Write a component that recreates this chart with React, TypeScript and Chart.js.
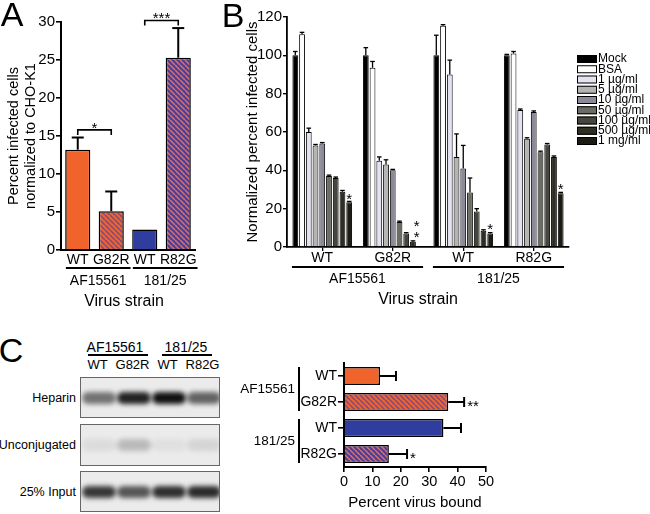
import React, { useEffect, useRef } from 'react';
import { Chart, registerables } from 'chart.js';

Chart.register(...registerables);

const FONT = '"Liberation Sans", Arial, Helvetica, sans-serif';

/* ---------------- Panel A data ---------------- */
const aCategories = ['WT', 'G82R', 'WT', 'R82G'];
const aStrains = ['AF15561', '181/25'];
const aValues = [13.2, 5.1, 2.7, 25.3];
const aErrors = [1.6, 2.6, 0, 3.9];
const aYTicks = [0, 5, 10, 15, 20, 25, 30];
const aSignificance = ['*', '***'];
const aBracketLevels = [15.8, 30.2];

/* ---------------- Panel B data ---------------- */
const bCategories = ['WT', 'G82R', 'WT', 'R82G'];
const bStrains = ['AF15561', '181/25'];
const bTreatments = ['Mock', 'BSA', '1 µg/ml', '5 µg/ml', '10 µg/ml', '50 µg/ml', '100 µg/ml', '500 µg/ml', '1 mg/ml'];
const bMock = [100, 100, 100, 100];
const bBSA = [111, 93.5, 115.5, 101];
const b1ug = [60, 45, 90, 71.5];
const b5ug = [53, 43, 47, 56.5];
const b10ug = [54, 40, 41, 70.5];
const b50ug = [37, 13, 28.5, 49.5];
const b100ug = [36, 7, 18.5, 53.5];
const b500ug = [28.8, 2.8, 8.5, 47];
const b1mg = [23.3, 0, 7, 28];
const bMockErr = [2, 4, 10.5, 0.5];
const bBSAErr = [1, 3.3, 0.5, 1];
const b1ugErr = [2, 2, 7.5, 0.5];
const b5ugErr = [0.5, 2.5, 12, 0.5];
const b10ugErr = [0.5, 0.5, 12, 0.5];
const b50ugErr = [0.5, 0.5, 7.5, 0.5];
const b100ugErr = [0.5, 0.5, 1.5, 0.5];
const b500ugErr = [0.7, 0.4, 0.5, 0.5];
const b1mgErr = [0.5, 0, 0.5, 0.5];
const bYTicks = [0, 10, 20, 30, 40, 50, 60, 70, 80, 90, 100, 110, 120];
const bStarCats = [0, 1, 1, 2, 3];
const bStarValues = [27, 12.8, 7, 11.5, 32];

/* ---------------- Panel C data ---------------- */
const cCategories = ['WT', 'G82R', 'WT', 'R82G'];
const cStrains = ['AF15561', '181/25'];
const cValues = [12.7, 36.7, 35, 15.8];
const cErrors = [5.6, 5.6, 6.2, 6.4];
const cXTicks = [0, 10, 20, 30, 40, 50];
const cSignificance = ['', '**', '', '*'];

const blotLanes = ['WT', 'G82R', 'WT', 'R82G'];
const blotRows = ['Heparin', 'Unconjugated', '25% Input'];
const heparinBand = [0.55, 0.92, 1.0, 0.62];
const unconjBand = [0.07, 0.22, 0.05, 0.1];
const inputBand = [0.82, 0.68, 0.86, 0.88];

/* ---------------- styles ---------------- */
const ORANGE = '#f0632b';
const BLUE = '#2f3e9e';
const bColors = ['#000000', '#ffffff', '#e4e2f0', '#b4b4b4', '#8c8a98', '#6c6c64', '#46463e', '#2e2e22', '#1c1c14'];

function stripes(base: string, stripe: string): CanvasPattern | string {
  const size = 5;
  const c = document.createElement('canvas');
  c.width = size;
  c.height = size;
  const g = c.getContext('2d');
  if (!g) return base;
  g.fillStyle = base;
  g.fillRect(0, 0, size, size);
  g.strokeStyle = stripe;
  g.lineWidth = 1.5;
  for (let k = -1; k <= 1; k++) {
    g.beginPath();
    g.moveTo(k * size, 0);
    g.lineTo(k * size + size, size);
    g.stroke();
  }
  return g.createPattern(c, 'repeat') || base;
}

function line(ctx: CanvasRenderingContext2D, x1: number, y1: number, x2: number, y2: number) {
  ctx.beginPath();
  ctx.moveTo(x1, y1);
  ctx.lineTo(x2, y2);
  ctx.stroke();
}
function text(ctx: CanvasRenderingContext2D, s: string, x: number, y: number, size: number, align: CanvasTextAlign = 'center') {
  ctx.font = `${size}px ${FONT}`;
  ctx.textAlign = align;
  ctx.textBaseline = 'middle';
  ctx.fillText(s, x, y);
}
function star(ctx: CanvasRenderingContext2D, s: string, x: number, yc: number, size: number, align: CanvasTextAlign = 'center') {
  ctx.font = `${size}px ${FONT}`;
  ctx.textAlign = align;
  ctx.textBaseline = 'alphabetic';
  ctx.fillText(s, x, yc + size * 0.58);
}
function vtext(ctx: CanvasRenderingContext2D, lines: string[], x: number, yc: number, size: number, lh: number) {
  ctx.save();
  ctx.translate(x, yc);
  ctx.rotate(-Math.PI / 2);
  lines.forEach((l, i) => text(ctx, l, 0, i * lh, size));
  ctx.restore();
}

function buildA(canvas: HTMLCanvasElement) {
  const patO = stripes(ORANGE, '#7b4a86');
  const patB = stripes('#4a3f98', '#e0706a');
  const plugin = {
    id: 'panelA',
    afterDatasetsDraw(chart: any) {
      const { ctx, chartArea } = chart;
      const x = chart.scales.x;
      const y = chart.scales.y;
      ctx.save();
      ctx.strokeStyle = '#000';
      ctx.fillStyle = '#000';
      ctx.lineWidth = 2;
      aValues.forEach((v, i) => {
        if (!aErrors[i]) return;
        const xc = x.getPixelForValue(i);
        const yb = y.getPixelForValue(v);
        const yt = y.getPixelForValue(v + aErrors[i]);
        line(ctx, xc, yb, xc, yt);
        line(ctx, xc - 6, yt, xc + 6, yt);
      });
      ctx.lineWidth = 1.6;
      aSignificance.forEach((s, k) => {
        const x1 = x.getPixelForValue(2 * k);
        const x2 = x.getPixelForValue(2 * k + 1);
        const yl = y.getPixelForValue(aBracketLevels[k]);
        ctx.beginPath();
        ctx.moveTo(x1, yl + 5);
        ctx.lineTo(x1, yl);
        ctx.lineTo(x2, yl);
        ctx.lineTo(x2, yl + 5);
        ctx.stroke();
        star(ctx, s, (x1 + x2) / 2, yl - 6, 15);
      });
      const b = chartArea.bottom;
      aCategories.forEach((c, i) => text(ctx, c, x.getPixelForValue(i), b + 10, 14));
      aStrains.forEach((s, k) => {
        const i0 = 2 * k;
        const i1 = 2 * k + 1;
        ctx.font = `14px ${FONT}`;
        const left = x.getPixelForValue(i0) - ctx.measureText(aCategories[i0]).width / 2 - 1;
        const right = x.getPixelForValue(i1) + ctx.measureText(aCategories[i1]).width / 2 + 1;
        ctx.lineWidth = 1.8;
        line(ctx, left, b + 18, right, b + 18);
        text(ctx, s, (left + right) / 2, b + 31, 14);
      });
      text(ctx, 'Virus strain', (chartArea.left + chartArea.right) / 2 - 4, b + 52, 16);
      vtext(ctx, ['Percent infected cells', 'normalized to CHO-K1'], 14, (chartArea.top + chartArea.bottom) / 2, 14.5, 17);
      ctx.restore();
    },
  };
  return new Chart(canvas, {
    type: 'bar',
    data: {
      labels: aCategories,
      datasets: [
        {
          data: aValues,
          backgroundColor: [ORANGE, patO, BLUE, patB] as any,
          borderColor: '#000',
          borderWidth: 1.5,
          categoryPercentage: 1,
          barPercentage: 0.75,
        },
      ],
    },
    options: {
      responsive: false,
      animation: false,
      layout: { padding: { top: 22, right: 15, left: 0, bottom: 0 } },
      plugins: { legend: { display: false }, tooltip: { enabled: false } },
      scales: {
        x: {
          grid: { display: false },
          border: { color: '#000', width: 2 },
          ticks: { display: false },
          afterFit: (s: any) => { s.height = 64; },
        },
        y: {
          min: 0,
          max: 30,
          afterBuildTicks: (s: any) => { s.ticks = aYTicks.map((v) => ({ value: v })); },
          ticks: { color: '#000', font: { family: FONT, size: 15 }, padding: 1 },
          grid: { drawOnChartArea: false, color: '#000', lineWidth: 1.6, tickLength: 5 },
          border: { color: '#000', width: 2 },
          afterFit: (s: any) => { s.width = 61; },
        },
      },
    } as any,
    plugins: [plugin],
  });
}

function buildB(canvas: HTMLCanvasElement) {
  const series = [bMock, bBSA, b1ug, b5ug, b10ug, b50ug, b100ug, b500ug, b1mg];
  const errs = [bMockErr, bBSAErr, b1ugErr, b5ugErr, b10ugErr, b50ugErr, b100ugErr, b500ugErr, b1mgErr];
  const plugin = {
    id: 'panelB',
    afterDatasetsDraw(chart: any) {
      const { ctx, chartArea } = chart;
      const x = chart.scales.x;
      const y = chart.scales.y;
      ctx.save();
      ctx.strokeStyle = '#000';
      ctx.fillStyle = '#000';
      ctx.lineWidth = 1.3;
      errs.forEach((ev, j) => {
        const meta = chart.getDatasetMeta(j);
        ev.forEach((e, i) => {
          if (!e) return;
          const el = meta.data[i];
          const yt = y.getPixelForValue(series[j][i] + e);
          line(ctx, el.x, el.y, el.x, yt);
          line(ctx, el.x - 2.3, yt, el.x + 2.3, yt);
        });
      });
      bStarCats.forEach((c, k) => {
        const el = chart.getDatasetMeta(8).data[c];
        star(ctx, '*', el.x - (c === 1 ? 3 : 0), y.getPixelForValue(bStarValues[k]), 15);
      });
      const b = chartArea.bottom;
      bCategories.forEach((c, i) => text(ctx, c, x.getPixelForValue(i), b + 11, 14));
      const w = x.getPixelForValue(1) - x.getPixelForValue(0);
      bStrains.forEach((s, k) => {
        const left = x.getPixelForValue(2 * k) - w * 0.43;
        const right = x.getPixelForValue(2 * k + 1) + w * 0.43;
        ctx.lineWidth = 1.8;
        line(ctx, left, b + 20, right, b + 20);
        text(ctx, s, (left + right) / 2, b + 32, 14);
      });
      text(ctx, 'Virus strain', (chartArea.left + chartArea.right) / 2 - 10, b + 53, 16);
      vtext(ctx, ['Normalized percent infected cells'], 53, (chartArea.top + chartArea.bottom) / 2, 15, 17);
      // legend
      const lx = chartArea.right + 8;
      ctx.lineWidth = 1;
      bTreatments.forEach((t, j) => {
        const yy = 59 + j * 10.25;
        ctx.fillStyle = bColors[j];
        ctx.fillRect(lx, yy - 4, 20, 8);
        ctx.strokeStyle = '#000';
        ctx.strokeRect(lx + 0.5, yy - 3.5, 19, 7);
        ctx.fillStyle = '#000';
        text(ctx, t, lx + 21, yy, 12, 'left');
      });
      ctx.restore();
    },
  };
  return new Chart(canvas, {
    type: 'bar',
    data: {
      labels: bCategories,
      datasets: bTreatments.map((t, j) => ({
        label: t,
        data: series[j],
        backgroundColor: bColors[j],
        borderColor: '#000',
        borderWidth: 1,
        categoryPercentage: 0.86,
        barPercentage: 0.86,
      })),
    },
    options: {
      responsive: false,
      animation: false,
      layout: { padding: { top: 17, right: 81, left: 0, bottom: 0 } },
      plugins: { legend: { display: false }, tooltip: { enabled: false } },
      scales: {
        x: {
          grid: { drawOnChartArea: false, offset: false, color: '#000', tickLength: 4, lineWidth: 1.3 },
          border: { color: '#000', width: 1.8 },
          ticks: { display: false },
          afterFit: (s: any) => { s.height = 67; },
        },
        y: {
          min: 0,
          max: 120,
          afterBuildTicks: (s: any) => { s.ticks = bYTicks.map((v) => ({ value: v })); },
          ticks: { color: '#000', font: { family: FONT, size: 15 }, padding: 1 },
          grid: { drawOnChartArea: false, color: '#000', lineWidth: 1.4, tickLength: 4 },
          border: { color: '#000', width: 1.8 },
          afterFit: (s: any) => { s.width = 87; },
        },
      },
    } as any,
    plugins: [plugin],
  });
}

function buildC(canvas: HTMLCanvasElement) {
  const patO = stripes(ORANGE, '#7b4a86');
  const patB = stripes('#4a3f98', '#e0706a');
  const plugin = {
    id: 'panelC',
    afterDatasetsDraw(chart: any) {
      const { ctx, chartArea } = chart;
      const x = chart.scales.x;
      const y = chart.scales.y;
      ctx.save();
      ctx.strokeStyle = '#000';
      ctx.fillStyle = '#000';
      ctx.lineWidth = 2;
      cValues.forEach((v, i) => {
        const yc = y.getPixelForValue(i);
        const x0 = x.getPixelForValue(v);
        const x1 = x.getPixelForValue(v + cErrors[i]);
        line(ctx, x0, yc, x1, yc);
        line(ctx, x1, yc - 5, x1, yc + 5);
        if (cSignificance[i]) star(ctx, cSignificance[i], x1 + 3, yc, 15, 'left');
      });
      ctx.lineWidth = 2;
      cStrains.forEach((s, k) => {
        const bx = chartArea.left - 45;
        const y0 = y.getPixelForValue(2 * k) - 9;
        const y1 = y.getPixelForValue(2 * k + 1) + 9;
        line(ctx, bx, y0, bx, y1);
        text(ctx, s, bx - 4, (y0 + y1) / 2, 13.5, 'right');
      });
      text(ctx, 'Percent virus bound', (chartArea.left + chartArea.right) / 2, chartArea.bottom + 36, 15);
      ctx.restore();
    },
  };
  return new Chart(canvas, {
    type: 'bar',
    data: {
      labels: cCategories,
      datasets: [
        {
          data: cValues,
          backgroundColor: [ORANGE, patO, BLUE, patB] as any,
          borderColor: '#000',
          borderWidth: 1.5,
          categoryPercentage: 1,
          barPercentage: 0.7,
        },
      ],
    },
    options: {
      indexAxis: 'y',
      responsive: false,
      animation: false,
      layout: { padding: { top: 33, right: 24, left: 0, bottom: 0 } },
      plugins: { legend: { display: false }, tooltip: { enabled: false } },
      scales: {
        x: {
          min: 0,
          max: 50,
          afterBuildTicks: (s: any) => { s.ticks = cXTicks.map((v) => ({ value: v })); },
          ticks: { color: '#000', font: { family: FONT, size: 14.5 }, padding: 1 },
          grid: { drawOnChartArea: false, color: '#000', lineWidth: 1.6, tickLength: 5 },
          border: { color: '#000', width: 2 },
          afterFit: (s: any) => { s.height = 47; },
        },
        y: {
          ticks: { color: '#000', font: { family: FONT, size: 14 }, padding: 1 },
          grid: { drawOnChartArea: false, offset: false, color: '#000', lineWidth: 1.6, tickLength: 6 },
          border: { color: '#000', width: 2 },
          afterFit: (s: any) => { s.width = 114; },
        },
      },
    } as any,
    plugins: [plugin],
  });
}

type TP = { x: number; y: number; size: number; align?: 'left' | 'center' | 'right'; children: React.ReactNode };
function T({ x, y, size, align = 'center', children }: TP) {
  const tx = align === 'center' ? '-50%' : align === 'right' ? '-100%' : '0';
  return (
    <div
      style={{
        position: 'absolute',
        left: x,
        top: y,
        fontSize: size,
        lineHeight: 1,
        whiteSpace: 'nowrap',
        transform: `translate(${tx}, -50%)`,
      }}
    >
      {children}
    </div>
  );
}

const laneCenters = [97.5, 132.5, 167.5, 202.5];
const rowTops = [377, 424, 471];
const rowHeights = [41, 42, 41];

function Blot() {
  const bands = [heparinBand, unconjBand, inputBand];
  return (
    <>
      <T x={115} y={347} size={14}>AF15561</T>
      <div style={{ position: 'absolute', left: 88, top: 354, width: 60, height: 1.5, background: '#000' }} />
      <T x={186} y={347} size={14}>181/25</T>
      <div style={{ position: 'absolute', left: 162, top: 354, width: 50, height: 1.5, background: '#000' }} />
      {blotLanes.map((l, i) => (
        <T key={'l' + i} x={laneCenters[i]} y={364} size={13}>{l}</T>
      ))}
      {blotRows.map((r, ri) => (
        <React.Fragment key={'r' + ri}>
          <T x={76} y={rowTops[ri] + rowHeights[ri] / 2} size={12.5} align="right">{r}</T>
          <div
            style={{
              position: 'absolute',
              left: 80,
              top: rowTops[ri],
              width: 140,
              height: rowHeights[ri],
              boxSizing: 'border-box',
              border: '1.5px solid #666',
              background: '#ebebeb',
              overflow: 'hidden',
            }}
          >
            {bands[ri].map((a, li) => (
              <div
                key={li}
                style={{
                  position: 'absolute',
                  left: laneCenters[li] - 80 - 17,
                  top: rowHeights[ri] / 2 - 7,
                  width: 34,
                  height: 12,
                  borderRadius: 6,
                  background: `rgba(15,15,15,${a})`,
                  filter: 'blur(2.5px)',
                }}
              />
            ))}
          </div>
        </React.Fragment>
      ))}
    </>
  );
}

export default function App() {
  const refA = useRef<HTMLCanvasElement>(null);
  const refB = useRef<HTMLCanvasElement>(null);
  const refC = useRef<HTMLCanvasElement>(null);
  useEffect(() => {
    Chart.defaults.font.family = FONT;
    Chart.defaults.color = '#000';
    const charts = [buildA(refA.current!), buildB(refB.current!), buildC(refC.current!)];
    return () => charts.forEach((c) => c.destroy());
  }, []);
  return (
    <div
      style={{
        position: 'absolute',
        left: 0,
        top: 0,
        width: 650,
        height: 514,
        background: '#fff',
        fontFamily: FONT,
        color: '#000',
        overflow: 'hidden',
      }}
    >
      <canvas ref={refA} width={210} height={314} style={{ position: 'absolute', left: 0, top: 0 }} />
      <canvas ref={refB} width={450} height={314} style={{ position: 'absolute', left: 200, top: 0 }} />
      <canvas ref={refC} width={280} height={184} style={{ position: 'absolute', left: 230, top: 330 }} />
      <T x={12} y={14} size={34}>A</T>
      <T x={233} y={15} size={34}>B</T>
      <T x={11} y={350} size={34}>C</T>
      <Blot />
    </div>
  );
}
